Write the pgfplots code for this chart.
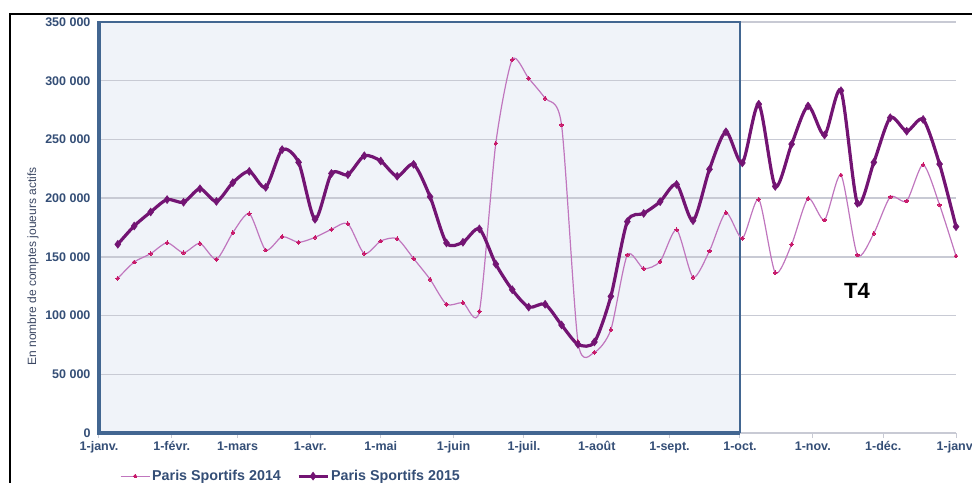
\documentclass[border=0pt]{standalone}
\usepackage{pgfplots}
\pgfplotsset{compat=1.18}
\usepackage{pgfplotstable}
\usepackage{fontspec}
\setmainfont{Liberation Sans}
\definecolor{tickc}{RGB}{52,78,118}
\definecolor{labc}{RGB}{60,72,100}
\definecolor{c15}{RGB}{115,20,115}
\definecolor{c14line}{RGB}{192,118,190}
\definecolor{c14mark}{RGB}{200,25,105}
\definecolor{shadeb}{RGB}{66,102,145}
\definecolor{shadef}{RGB}{240,243,249}
\definecolor{gridc}{RGB}{200,202,212}

\pgfplotstableread{
x y
8 131.7
15 145.6
22 152.7
29 162.0
36 153.5
43 161.5
50 147.9
57 170.6
64 186.8
71 155.8
78 167.2
85 162.4
92 166.6
99 173.4
106 178.2
113 152.7
120 163.5
127 165.5
134 148.5
141 130.9
148 109.6
155 111.0
162 103.6
169 246.7
176 318.0
183 302.0
190 285.0
197 262.3
204 77.7
211 68.7
218 88.0
225 151.6
232 140.0
239 146.1
246 173.1
253 132.6
260 155.0
267 187.6
274 165.8
281 199.0
288 136.5
295 160.7
302 199.8
309 181.4
316 219.7
323 151.6
330 170.0
337 201.0
344 197.6
351 228.5
358 194.2
365 150.7
}\dataA

\pgfplotstableread{
x y
8 160.7
15 176.3
22 188.2
29 198.8
36 196.5
43 208.0
50 197.2
57 213.2
64 222.8
71 209.2
78 241.3
85 230.5
92 182.0
99 221.0
106 220.0
113 236.1
120 231.6
127 218.6
134 228.8
141 201.2
148 161.8
155 162.4
162 173.8
169 143.8
176 122.0
183 107.2
190 109.6
197 92.0
204 75.5
211 77.5
218 116.4
225 180.0
232 187.0
239 197.0
246 211.7
253 180.8
260 224.6
267 256.5
274 230.0
281 280.0
288 210.0
295 246.0
302 278.5
309 253.7
316 291.5
323 195.6
330 230.5
337 268.5
344 257.0
351 267.0
358 229.0
365 175.7
}\dataB

\begin{document}
\begin{tikzpicture}[x=1pt,y=1pt]
\begin{axis}[
  set layers,
  scale only axis, width=857pt, height=411pt,
  xmin=0, xmax=365, ymin=0, ymax=350,
  axis x line*=bottom, axis y line*=left,
  axis line style={draw=none},
  xtick={0,31,59,90,120,151,181,212,243,273,304,334,365},
  xticklabels={1-janv.,1-févr.,1-mars,1-avr.,1-mai,1-juin,1-juil.,1-août,1-sept.,1-oct.,1-nov.,1-déc.,1-janv.},
  ytick={0,50,100,150,200,250,300,350},
  yticklabels={0,50 000,100 000,150 000,200 000,250 000,300 000,350 000},
  ymajorgrids, grid style={gridc, line width=1.5pt},
  tick align=outside, major tick length=5pt,
  xtick style={gridc, line width=1pt},
  ytick style={draw=none},
  ticklabel style={font=\fontsize{12.5}{14}\selectfont\bfseries, text=tickc},
  ylabel={En nombre de comptes joueurs actifs},
  every axis y label/.style={at={(axis description cs:-0.077,0.405)}, rotate=90, anchor=center, font=\fontsize{12}{14}\selectfont, text=labc},
  clip=false,
  legend style={at={(axis description cs:0.224,-0.105)}, anchor=center, draw=none, fill=none,
    legend columns=2, font=\fontsize{14.3}{16}\selectfont\bfseries, text=tickc,
    /tikz/every even column/.append style={column sep=14pt}, inner sep=0pt},
  legend image code/.code={\draw[mark repeat=2,mark phase=2,#1] plot coordinates {(0pt,0pt) (14.5pt,0pt) (29pt,0pt)};},
]
\addplot[on layer=axis background, fill=shadef, draw=none, forget plot] coordinates {(0,0) (0,350) (273,350) (273,0)} --cycle;
\draw[shadeb, line width=2.5pt] (axis cs:0,350) -- (axis cs:273,350) -- (axis cs:273,0);
\draw[shadeb, line width=3.5pt] (axis cs:273,0) -- (axis cs:0,0) -- (axis cs:0,351);
\addplot[c14line, line width=1.2pt, smooth, tension=0.42, mark=*, mark size=1.8pt, mark options={fill=c14mark, draw=c14mark, line width=0pt}] table[x=x,y=y] {\dataA};
\addlegendentry{Paris Sportifs 2014}
\addplot[c15, line width=3.2pt, smooth, tension=0.45, mark=diamond*, mark size=4pt, mark options={fill=c15, line width=0.5pt}] table[x=x,y=y] {\dataB};
\addlegendentry{Paris Sportifs 2015}
\node[font=\fontsize{22}{24}\selectfont\bfseries, text=black] at (axis cs:322.8,120.9) {T4};
\end{axis}
\draw[black, line width=2.3pt] (-89,-80) -- (-89,419) -- (900,419);
\pgfresetboundingbox
\path[use as bounding box] (-99,-49) rectangle (873,433);
\end{tikzpicture}
\end{document}
